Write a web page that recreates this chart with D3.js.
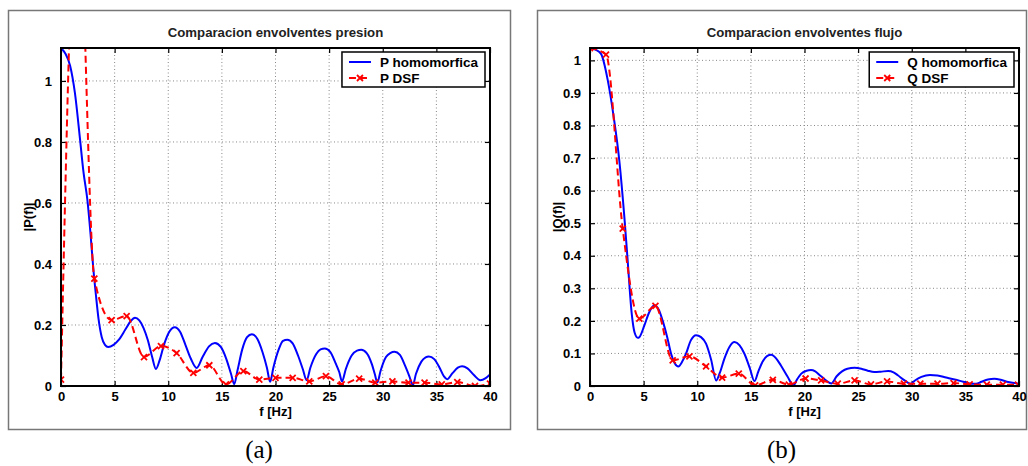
<!DOCTYPE html>
<html>
<head>
<meta charset="utf-8">
<script src="https://cdn.jsdelivr.net/npm/d3@7"></script>
<style>
  html, body { margin: 0; padding: 0; background: #fff; }
  svg { display: block; font-family: "Liberation Sans", Arial, sans-serif; }
</style>
</head>
<body>
<svg id="chart" width="1028" height="466"></svg>
<script>
// ---- data ----
// (a) presion: smooth homomorphic envelope, [f, |P|]
const pHomo = [
  [0,1.108],[0.4,1.09],[0.85,1.05],[1.3,0.96],[1.77,0.81],[2.1,0.70],[2.46,0.61],[2.75,0.50],
  [3.0,0.39],[3.25,0.30],[3.5,0.22],[3.8,0.16],[4.1,0.135],[4.4,0.128],[4.9,0.135],[5.4,0.152],
  [6.0,0.185],[6.5,0.213],[6.9,0.224],[7.3,0.215],[7.7,0.19],[8.1,0.15],[8.5,0.095],[8.85,0.056],
  [9.2,0.085],[9.6,0.135],[10.1,0.178],[10.6,0.193],[11.1,0.178],[11.6,0.135],[12.1,0.09],[12.65,0.059],
  [13.2,0.095],[13.8,0.13],[14.35,0.141],[14.9,0.128],[15.4,0.09],[15.85,0.04],[16.15,0.006],[16.45,0.05],
  [16.9,0.12],[17.35,0.16],[17.8,0.17],[18.3,0.155],[18.8,0.11],[19.2,0.06],[19.5,0.014],[19.8,0.06],
  [20.3,0.12],[20.7,0.148],[21.1,0.152],[21.6,0.14],[22.1,0.1],[22.55,0.055],[22.9,0.019],[23.25,0.06],
  [23.8,0.105],[24.2,0.12],[24.6,0.123],[25.1,0.112],[25.6,0.075],[25.95,0.045],[26.2,0.015],[26.55,0.055],
  [27.1,0.1],[27.6,0.116],[28.0,0.119],[28.5,0.108],[29.0,0.07],[29.25,0.04],[29.5,0.012],[29.8,0.05],
  [30.3,0.095],[30.7,0.108],[31.1,0.112],[31.6,0.102],[32.1,0.065],[32.5,0.03],[32.8,0.002],[33.1,0.04],
  [33.6,0.08],[34.0,0.094],[34.3,0.097],[34.8,0.088],[35.3,0.06],[35.7,0.032],[36.0,0.022],[36.5,0.042],
  [37.0,0.06],[37.4,0.065],[37.9,0.058],[38.5,0.036],[39.1,0.019],[39.6,0.026],[40.0,0.038]
];
// DSF samples (markers); the 1.55 Hz point lies above the axes and is clipped
const pDsf = [
  [0,0.021],[1.55,1.65],[3.11,0.352],[4.72,0.216],[6.12,0.229],[7.74,0.095],[9.32,0.131],[10.78,0.108],
  [12.34,0.043],[13.83,0.068],[15.38,0.005],[17.0,0.049],[18.49,0.021],[20.0,0.027],[21.6,0.027],
  [23.15,0.015],[24.7,0.032],[26.17,0.005],[27.8,0.024],[29.3,0.011],[30.9,0.015],[32.4,0.011],
  [33.9,0.011],[35.5,0.005],[36.95,0.013],[38.6,0.0],[40,0.008]
];

// (b) flujo
const qHomo = [
  [0,1.038],[0.5,1.033],[1.03,1.02],[1.65,0.94],[2.21,0.826],[2.74,0.69],[3.2,0.52],[3.51,0.386],
  [3.89,0.222],[4.15,0.165],[4.45,0.148],[4.6,0.15],[5.07,0.186],[5.5,0.225],[6.0,0.248],[6.4,0.235],
  [6.78,0.2],[7.2,0.15],[7.56,0.099],[7.9,0.07],[8.24,0.06],[8.6,0.075],[8.96,0.1],[9.4,0.14],
  [9.89,0.156],[10.35,0.15],[10.82,0.13],[11.3,0.08],[11.76,0.017],[12.1,0.04],[12.54,0.085],[13.0,0.12],
  [13.47,0.135],[13.95,0.125],[14.4,0.099],[14.9,0.055],[15.33,0.015],[15.7,0.045],[16.1,0.075],[16.5,0.092],
  [16.9,0.096],[17.35,0.085],[17.8,0.063],[18.4,0.03],[18.97,0.002],[19.3,0.02],[19.7,0.038],[20.2,0.047],
  [20.6,0.049],[21.0,0.045],[21.4,0.034],[21.9,0.02],[22.5,0.008],[23.0,0.03],[23.5,0.045],[24.0,0.053],
  [24.67,0.056],[25.3,0.053],[25.9,0.047],[26.5,0.043],[27.1,0.044],[27.8,0.046],[28.3,0.042],[28.7,0.033],
  [29.3,0.018],[29.9,0.007],[30.3,0.017],[30.9,0.028],[31.7,0.034],[32.4,0.032],[33.2,0.026],[34.0,0.02],
  [34.8,0.013],[35.5,0.007],[36.0,0.007],[36.5,0.013],[37.1,0.02],[37.7,0.022],[38.3,0.019],[39.0,0.012],
  [40.0,0.007]
];
const qDsf = [
  [0,1.038],[1.49,1.018],[3.05,0.483],[4.6,0.207],[6.1,0.246],[7.71,0.079],[9.27,0.091],[10.82,0.06],
  [12.32,0.026],[13.87,0.038],[15.4,0.002],[17.05,0.019],[18.54,0.004],[20.1,0.023],[21.55,0.017],
  [23.1,0.007],[24.67,0.017],[26.2,0.005],[27.7,0.014],[29.27,0.007],[30.8,0.007],[32.4,0.007],
  [33.9,0.009],[35.4,0.005],[37.0,0.004],[38.5,0.004],[39.9,0.004]
];

const xTicks = [0, 5, 10, 15, 20, 25, 30, 35, 40];
const pTicks = [0, 0.2, 0.4, 0.6, 0.8, 1];
const qTicks = [0, 0.1, 0.2, 0.3, 0.4, 0.5, 0.6, 0.7, 0.8, 0.9, 1];

// ---- layout ----
const panels = [
  { id: 'a', frame: [8, 10, 502, 419], box: { x0: 61, x1: 490, y0: 48, y1: 386 }, yMax: 1.108,
    yTicks: pTicks, title: 'Comparacion envolventes presion', yLabel: '|P(f)|', caption: '(a)',
    homo: pHomo, dsf: pDsf, names: ['P homomorfica', 'P DSF'] },
  { id: 'b', frame: [537, 10, 489, 419], box: { x0: 590, x1: 1019, y0: 48, y1: 386 }, yMax: 1.038,
    yTicks: qTicks, title: 'Comparacion envolventes flujo', yLabel: '|Q(f)|', caption: '(b)',
    homo: qHomo, dsf: qDsf, names: ['Q homomorfica', 'Q DSF'] }
];

const svg = d3.select('#chart');
const fmt = d => d3.format('~g')(d);

function xMark(sel, s) {
  sel.attr('d', `M${-s},${-s}L${s},${s}M${-s},${s}L${s},${-s}`);
}

function drawPanel(p) {
  const g = svg.append('g');
  const b = p.box;
  const x = d3.scaleLinear().domain([0, 40]).range([b.x0, b.x1]);
  const y = d3.scaleLinear().domain([0, p.yMax]).range([b.y1, b.y0]);

  // outer frame of the sub-figure
  g.append('rect')
    .attr('x', p.frame[0] + 0.5).attr('y', p.frame[1] + 0.5)
    .attr('width', p.frame[2]).attr('height', p.frame[3])
    .attr('fill', 'none').attr('stroke', '#777').attr('stroke-width', 1.5);

  // dotted grid
  const grid = g.append('g').attr('stroke', '#888').attr('stroke-width', 1).attr('stroke-dasharray', '1,2.5');
  grid.selectAll('.gx').data(xTicks.slice(1, -1)).join('line')
    .attr('x1', d => x(d)).attr('x2', d => x(d)).attr('y1', b.y0).attr('y2', b.y1);
  grid.selectAll('.gy').data(p.yTicks.slice(1)).join('line')
    .attr('x1', b.x0).attr('x2', b.x1).attr('y1', d => y(d)).attr('y2', d => y(d));

  // axes: ticks pointing inwards on all sides
  const tk = 5;
  g.append('g').attr('transform', `translate(0,${b.y1})`)
    .call(d3.axisBottom(x).tickValues(xTicks).tickSize(-tk).tickPadding(6).tickFormat(fmt));
  g.append('g').attr('transform', `translate(0,${b.y0})`)
    .call(d3.axisTop(x).tickValues(xTicks).tickSize(-tk).tickFormat(''));
  g.append('g').attr('transform', `translate(${b.x0},0)`)
    .call(d3.axisLeft(y).tickValues(p.yTicks).tickSize(-tk).tickPadding(9).tickFormat(fmt));
  g.append('g').attr('transform', `translate(${b.x1},0)`)
    .call(d3.axisRight(y).tickValues(p.yTicks).tickSize(-tk).tickFormat(''));
  g.selectAll('.domain').remove();
  g.selectAll('.tick line').attr('stroke', '#000').attr('stroke-width', 1.2);
  g.selectAll('.tick text')
    .attr('fill', '#000').attr('font-size', 13).attr('font-weight', 'bold')
    .attr('font-family', '"Liberation Sans", Arial, sans-serif');

  // clip to the axes box
  const clipId = 'clip-' + p.id;
  g.append('clipPath').attr('id', clipId).append('rect')
    .attr('x', b.x0).attr('y', b.y0).attr('width', b.x1 - b.x0).attr('height', b.y1 - b.y0);
  const plot = g.append('g').attr('clip-path', `url(#${clipId})`);

  const line = d3.line().x(d => x(d[0])).y(d => y(d[1])).curve(d3.curveMonotoneX);

  plot.append('path').datum(p.homo).attr('d', line)
    .attr('fill', 'none').attr('stroke', '#0000ff').attr('stroke-width', 2);
  plot.append('path').datum(p.dsf).attr('d', line)
    .attr('fill', 'none').attr('stroke', '#ff0000').attr('stroke-width', 2)
    .attr('stroke-dasharray', '7,4');
  plot.selectAll('.mk').data(p.dsf).join('path')
    .attr('transform', d => `translate(${x(d[0])},${y(d[1])})`)
    .call(xMark, 3)
    .attr('fill', 'none').attr('stroke', '#ff0000').attr('stroke-width', 1.8);

  // axes box
  g.append('rect')
    .attr('x', b.x0).attr('y', b.y0).attr('width', b.x1 - b.x0).attr('height', b.y1 - b.y0)
    .attr('fill', 'none').attr('stroke', '#000').attr('stroke-width', 2);

  // texts
  const cx = (b.x0 + b.x1) / 2;
  g.append('text').attr('x', cx).attr('y', 37).attr('text-anchor', 'middle')
    .attr('font-size', 13.2).attr('font-weight', 'bold').attr('fill', '#222').text(p.title);
  g.append('text').attr('x', cx).attr('y', 416).attr('text-anchor', 'middle')
    .attr('font-size', 13).attr('font-weight', 'bold').text('f [Hz]');
  g.append('text')
    .attr('transform', `translate(${b.x0 - 28},${(b.y0 + b.y1) / 2}) rotate(-90)`)
    .attr('text-anchor', 'middle').attr('font-size', 13).attr('font-weight', 'bold').text(p.yLabel);
  g.append('text').attr('x', p.frame[0] + p.frame[2] / 2).attr('y', 458).attr('text-anchor', 'middle')
    .attr('font-family', '"Liberation Serif", "DejaVu Serif", serif').attr('font-size', 25)
    .text(p.caption);

  // legend
  const lg = g.append('g');
  const boxR = b.x1 - 5, boxT = b.y0 + 4, rowH = 16;
  const labels = lg.selectAll('text').data(p.names).join('text')
    .attr('y', (d, i) => boxT + 15 + i * rowH)
    .attr('font-size', 13.5).attr('font-weight', 'bold').text(d => d);
  const tw = d3.max(labels.nodes(), n => n.getComputedTextLength());
  const textX = boxR - 7 - tw;
  const boxL = textX - 38;
  labels.attr('x', textX);
  lg.insert('rect', 'text')
    .attr('x', boxL).attr('y', boxT).attr('width', boxR - boxL).attr('height', 35)
    .attr('fill', '#fff').attr('stroke', '#000').attr('stroke-width', 1.5);
  const r0 = boxT + 10, r1 = boxT + 10 + rowH;
  lg.append('line').attr('x1', boxL + 7).attr('x2', boxL + 29).attr('y1', r0).attr('y2', r0)
    .attr('stroke', '#0000ff').attr('stroke-width', 2);
  lg.append('line').attr('x1', boxL + 7).attr('x2', boxL + 29).attr('y1', r1).attr('y2', r1)
    .attr('stroke', '#ff0000').attr('stroke-width', 2).attr('stroke-dasharray', '7,4');
  lg.append('path').attr('transform', `translate(${boxL + 18},${r1})`).call(xMark, 3)
    .attr('fill', 'none').attr('stroke', '#ff0000').attr('stroke-width', 1.8);
}

panels.forEach(drawPanel);
</script>
</body>
</html>
